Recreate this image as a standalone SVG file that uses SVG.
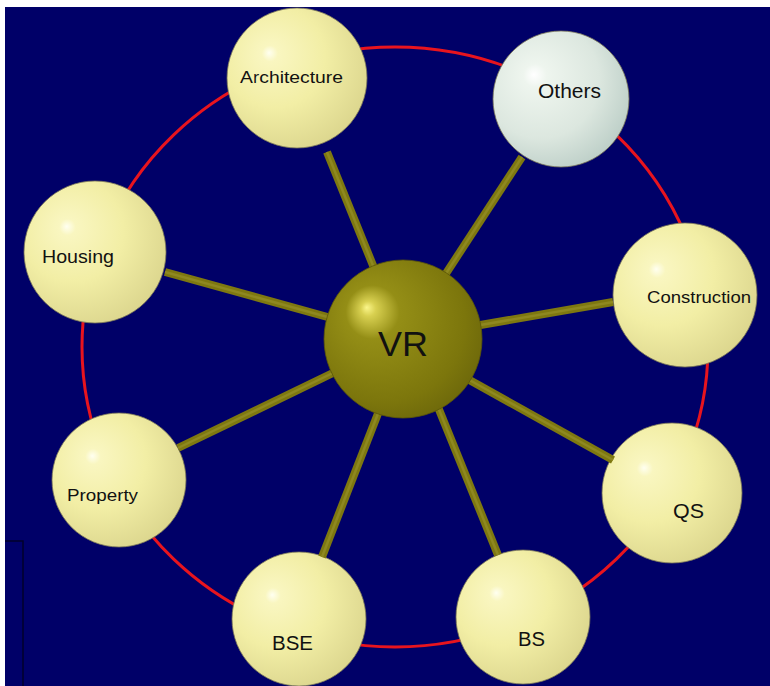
<svg xmlns="http://www.w3.org/2000/svg" width="770" height="686" viewBox="0 0 770 686">
<defs>
<radialGradient id="gY" cx="0.38" cy="0.38" fx="0.3" fy="0.32" r="0.72">
<stop offset="0" stop-color="#fffff0"/>
<stop offset="0.08" stop-color="#f9f6c0"/>
<stop offset="0.5" stop-color="#f2eea5"/>
<stop offset="1" stop-color="#d9d38b"/>
</radialGradient>
<radialGradient id="gW" cx="0.38" cy="0.38" fx="0.3" fy="0.32" r="0.72">
<stop offset="0" stop-color="#ffffff"/>
<stop offset="0.12" stop-color="#eef5ee"/>
<stop offset="0.6" stop-color="#dce7df"/>
<stop offset="1" stop-color="#b8cbc4"/>
</radialGradient>
<radialGradient id="gV" cx="0.42" cy="0.42" fx="0.27" fy="0.3" r="0.68">
<stop offset="0" stop-color="#fbf68a"/>
<stop offset="0.07" stop-color="#d8d050"/>
<stop offset="0.25" stop-color="#948e16"/>
<stop offset="0.75" stop-color="#7c760c"/>
<stop offset="1" stop-color="#69640a"/>
</radialGradient>
</defs>
<style>
.ball{stroke:#7a7658;stroke-width:0.8}
.lbl{font-family:"Liberation Sans",Arial,sans-serif;fill:#111111}
.rod{stroke:#7e7810;stroke-width:8;stroke-linecap:butt}
.rodh{stroke:#8e8820;stroke-width:2.5;stroke-linecap:butt}
</style>
<rect x="0" y="0" width="770" height="686" fill="#ffffff"/>
<rect x="5" y="7" width="765" height="679" fill="#000068"/>
<path d="M5 541 H23 V686" fill="none" stroke="#00002a" stroke-width="1.5"/>
<ellipse cx="395" cy="347" rx="313" ry="300" fill="none" stroke="#e8141e" stroke-width="3"/>

<g id="architecture"><circle class="ball" cx="297" cy="78" r="70" fill="url(#gY)"/><text class="lbl" x="240" y="83" font-size="16" textLength="103" lengthAdjust="spacingAndGlyphs">Architecture</text></g>
<g id="others"><circle class="ball" cx="561" cy="99" r="68" fill="url(#gW)"/><text class="lbl" x="538" y="98" font-size="21" textLength="63" lengthAdjust="spacingAndGlyphs">Others</text></g>
<g id="housing"><circle class="ball" cx="95" cy="252" r="71" fill="url(#gY)"/><text class="lbl" x="42" y="263" font-size="19" textLength="72" lengthAdjust="spacingAndGlyphs">Housing</text></g>
<g id="construction"><circle class="ball" cx="685" cy="295" r="72" fill="url(#gY)"/><text class="lbl" x="647" y="303" font-size="17" textLength="104" lengthAdjust="spacingAndGlyphs">Construction</text></g>
<g id="property"><circle class="ball" cx="119" cy="480" r="67" fill="url(#gY)"/><text class="lbl" x="67" y="501" font-size="16.5" textLength="71" lengthAdjust="spacingAndGlyphs">Property</text></g>
<g id="qs"><circle class="ball" cx="672" cy="493" r="70" fill="url(#gY)"/><text class="lbl" x="673" y="518" font-size="21" textLength="31" lengthAdjust="spacingAndGlyphs">QS</text></g>
<g id="bse"><circle class="ball" cx="299" cy="619" r="67" fill="url(#gY)"/><text class="lbl" x="272" y="650" font-size="20" textLength="41" lengthAdjust="spacingAndGlyphs">BSE</text></g>
<g id="bs"><circle class="ball" cx="523" cy="617" r="67" fill="url(#gY)"/><text class="lbl" x="518" y="646" font-size="20" textLength="27" lengthAdjust="spacingAndGlyphs">BS</text></g>

<g id="connectors">
<line class="rod" x1="327" y1="152" x2="385" y2="295"/>
<line class="rod" x1="522" y1="157" x2="430" y2="298"/>
<line class="rod" x1="165" y1="272" x2="360" y2="326"/>
<line class="rod" x1="613" y1="302" x2="440" y2="332"/>
<line class="rod" x1="178" y1="448" x2="370" y2="355"/>
<line class="rod" x1="613" y1="460" x2="430" y2="358"/>
<line class="rod" x1="322" y1="557" x2="395" y2="370"/>
<line class="rod" x1="498" y1="555" x2="425" y2="375"/>
<line class="rodh" x1="327" y1="152" x2="385" y2="295"/>
<line class="rodh" x1="522" y1="157" x2="430" y2="298"/>
<line class="rodh" x1="165" y1="272" x2="360" y2="326"/>
<line class="rodh" x1="613" y1="302" x2="440" y2="332"/>
<line class="rodh" x1="178" y1="448" x2="370" y2="355"/>
<line class="rodh" x1="613" y1="460" x2="430" y2="358"/>
<line class="rodh" x1="322" y1="557" x2="395" y2="370"/>
<line class="rodh" x1="498" y1="555" x2="425" y2="375"/>
</g>

<g id="vr"><circle cx="403" cy="339" r="79" fill="url(#gV)" stroke="#5a5608" stroke-width="0.8"/><text class="lbl" x="378" y="356" font-size="35" textLength="50" lengthAdjust="spacingAndGlyphs">VR</text></g>
</svg>
